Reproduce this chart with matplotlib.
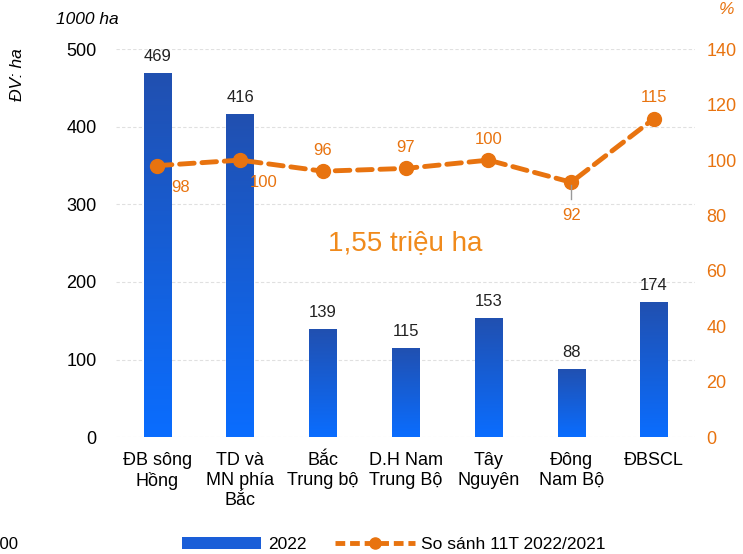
import matplotlib.pyplot as plt
import numpy as np
from matplotlib.lines import Line2D
from matplotlib.patches import Patch
from matplotlib.colors import LinearSegmentedColormap

plt.rcParams['font.family'] = ['Liberation Sans', 'DejaVu Sans']

regions = ["ĐB sông\nHồng", "TD và\nMN phía\nBắc", "Bắc\nTrung bộ", "D.H Nam\nTrung Bộ",
           "Tây\nNguyên", "Đông\nNam Bộ", "ĐBSCL"]
area_2022 = [469, 416, 139, 115, 153, 88, 174]
compare_pct = [98, 100, 96, 97, 100, 92, 115]

orange = '#E8730F'
fig = plt.figure(figsize=(7.43, 5.54), dpi=100)
ax1 = fig.add_axes([0.156, 0.211, 0.78, 0.70])
ax2 = ax1.twinx()

x = np.arange(len(regions))
bars = ax1.bar(x, area_2022, width=0.33, color='#1A5ED8', zorder=2)

# gradient fill for bars
grad = np.linspace(0, 1, 256).reshape(-1, 1)
cmap = LinearSegmentedColormap.from_list('b', ['#0A6DFF', '#2150B0'])
for b in bars:
    x0, y0, w, h = b.get_x(), b.get_y(), b.get_width(), b.get_height()
    im = ax1.imshow(grad, extent=[x0, x0 + w, y0, y0 + h], origin='lower',
                    aspect='auto', cmap=cmap, zorder=2)
    im.set_clip_path(b)
    b.set_alpha(0)

for xi, v in zip(x, area_2022):
    ax1.text(xi, v + 12, str(v), ha='center', va='bottom', fontsize=12, color='#222222')

ax1.set_xlim(-0.5, len(regions) - 0.5)
ax1.set_ylim(0, 500)
ax1.set_yticks([0, 100, 200, 300, 400, 500])
ax1.yaxis.grid(True, color='#E0E0E0', lw=0.8, ls=(0, (3, 2)))
ax1.set_axisbelow(True)
ax1.set_xticks(x)
ax1.set_xticklabels(regions, fontsize=13, linespacing=1.2)
ax1.tick_params(axis='x', length=0, labelsize=13, pad=11)
ax1.tick_params(axis='y', length=0, labelsize=13, pad=14)
for s in ax1.spines.values():
    s.set_visible(False)

ax2.plot(x, compare_pct, color=orange, lw=3.5, ls=(0, (3, 1.6)), marker='o',
         markersize=10, zorder=3, dash_capstyle='round')
ax2.set_ylim(0, 140)
ax2.set_yticks(range(0, 141, 20))
ax2.tick_params(axis='y', length=0, labelsize=13, labelcolor=orange, pad=8)
for s in ax2.spines.values():
    s.set_visible(False)

offsets = [(0.28, -8), (0.28, -8), (0, 7.5), (0, 7.5), (0, 7.5), (0, -12), (0, 7.5)]
for xi, v, (dx, dy) in zip(x, compare_pct, offsets):
    ax2.text(xi + dx, v + dy, str(v), ha='center', va='center', fontsize=12, color=orange)
ax2.plot([5, 5], [91, 86], color='#999999', lw=1, zorder=4)

ax2.text(3, 70, "1,55 triệu ha", ha='center', va='center', fontsize=20, color='#F08A1C')

fig.text(0.075, 0.965, "1000 ha", fontsize=12.5, style='italic', ha='left', va='center')
fig.text(0.024, 0.865, "ĐV: ha", fontsize=12.5, style='italic', rotation=90,
         ha='center', va='center')
fig.text(0.978, 0.982, "%", fontsize=12.5, style='italic', color=orange,
         ha='center', va='center')
fig.text(-0.025, 0.017, "1000", fontsize=12, ha='left', va='center')

handles = [Patch(facecolor='#1A5ED8', label='2022'),
           Line2D([0], [0], color=orange, lw=3.5, ls=(0, (2, 1)), marker='o',
                  markersize=8, label='So sánh 11T 2022/2021')]
fig.legend(handles=handles, loc='center', bbox_to_anchor=(0.53, 0.017), ncol=2,
           frameon=False, fontsize=12.5, handlelength=4.6, handleheight=0.7,
           columnspacing=1.6, handletextpad=0.4)

plt.savefig('out.png', dpi=100)
